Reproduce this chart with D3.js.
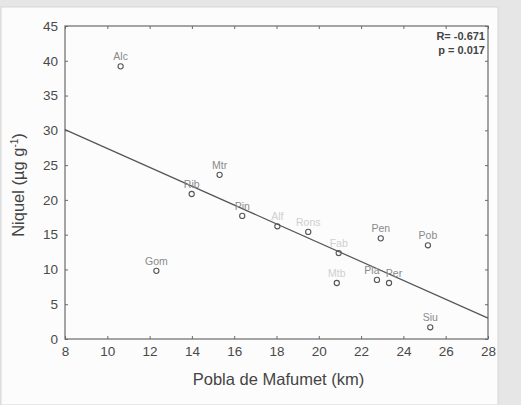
<!DOCTYPE html>
<html>
<head>
  <script src="https://d3js.org/d3.v7.min.js"></script>
  <style>
    body { margin: 0; background: #e4e4e4; }
    svg { display: block; font-family: "Liberation Sans", Arial, sans-serif; }
  </style>
</head>
<body>
  <svg width="521" height="405"></svg>
  <script>
  // sites, distance to Pobla de Mafumet (km) and nickel (ug/g)
  const sites = ["Alc", "Mtr", "Rib", "Pin", "Alf", "Gom", "Rons", "Fab", "Mtb", "Pen", "Pob", "Pla", "Per", "Siu"];
  const distKm = [10.63, 15.31, 13.99, 16.38, 18.04, 12.32, 19.5, 20.94, 20.85, 22.93, 25.16, 22.75, 23.32, 25.27];
  const niquel = [39.2, 23.6, 20.85, 17.7, 16.2, 9.8, 15.4, 12.36, 8.05, 14.47, 13.47, 8.5, 8.05, 1.68];
  // labels that are barely visible in the source
  const faint = ["Alf", "Rons", "Fab", "Mtb"];

  // fitted line end points
  const fitX = [8, 28];
  const fitY = [30.1, 3.0];

  const xTicks = d3.range(8, 29, 2);
  const yTicks = d3.range(0, 46, 5);

  const svg = d3.select("svg");

  // card with shadow
  svg.append("rect").attr("x", 0).attr("y", 0).attr("width", 521).attr("height", 405).attr("fill", "#e6e6e6");
  svg.append("rect").attr("x", 1).attr("y", 7).attr("width", 497).attr("height", 398).attr("fill", "#fcfcfc")
    .attr("stroke", "#d6d6d6").attr("stroke-width", 1);

  const m = { left: 65, right: 488, top: 26, bottom: 339 };
  const x = d3.scaleLinear().domain([8, 28]).range([m.left, m.right]);
  const y = d3.scaleLinear().domain([0, 45]).range([m.bottom, m.top]);

  const axisColor = "#6a6a6a";

  // axes (ticks inward)
  svg.append("g").attr("transform", `translate(0,${m.bottom})`)
    .call(d3.axisBottom(x).tickValues(xTicks).tickSizeInner(-3).tickSizeOuter(0).tickPadding(7))
    .call(g => g.select(".domain").remove());
  svg.append("g").attr("transform", `translate(${m.left},0)`)
    .call(d3.axisLeft(y).tickValues(yTicks).tickSizeInner(-3).tickSizeOuter(0).tickPadding(7))
    .call(g => g.select(".domain").remove());
  svg.append("g").attr("transform", `translate(0,${m.top})`)
    .call(d3.axisTop(x).tickValues(xTicks).tickSizeInner(-3).tickSizeOuter(0).tickFormat(""))
    .call(g => g.select(".domain").remove());
  svg.append("g").attr("transform", `translate(${m.right},0)`)
    .call(d3.axisRight(y).tickValues(yTicks).tickSizeInner(-3).tickSizeOuter(0).tickFormat(""))
    .call(g => g.select(".domain").remove());

  svg.selectAll(".tick line").attr("stroke", axisColor);
  svg.selectAll(".tick text").attr("fill", "#4a4a4a").attr("font-size", 13.5);

  svg.append("rect").attr("x", m.left).attr("y", m.top).attr("width", m.right - m.left).attr("height", m.bottom - m.top)
    .attr("fill", "none").attr("stroke", axisColor).attr("stroke-width", 1.2);

  // regression line
  svg.append("line")
    .attr("x1", x(fitX[0])).attr("y1", y(fitY[0]))
    .attr("x2", x(fitX[1])).attr("y2", y(fitY[1]))
    .attr("stroke", "#555").attr("stroke-width", 1.2);

  // points
  const pts = sites.map((s, i) => ({ s, d: distKm[i], n: niquel[i] }));
  svg.append("g").selectAll("circle").data(pts).enter().append("circle")
    .attr("cx", d => x(d.d)).attr("cy", d => y(d.n)).attr("r", 2.6)
    .attr("fill", "none").attr("stroke", "#555").attr("stroke-width", 1.1);

  // Pla and Per sit close together, so their labels lean apart
  const labelShift = { Pla: -5, Per: 5 };
  svg.append("g").selectAll("text").data(pts).enter().append("text")
    .attr("x", d => x(d.d) + (labelShift[d.s] || 0)).attr("y", d => y(d.n) - 6)
    .attr("text-anchor", "middle").attr("font-size", 10.5)
    .attr("fill", d => faint.includes(d.s) ? "#cfcfcf" : "#8a8a8a")
    .text(d => d.s);

  // statistics
  svg.append("text").attr("x", m.right - 3).attr("y", 40).attr("text-anchor", "end")
    .attr("font-size", 11).attr("font-weight", "bold").attr("fill", "#444").text("R= -0.671");
  svg.append("text").attr("x", m.right - 3).attr("y", 54).attr("text-anchor", "end")
    .attr("font-size", 11).attr("font-weight", "bold").attr("fill", "#444").text("p = 0.017");

  // axis titles
  svg.append("text").attr("x", (m.left + m.right) / 2 + 2).attr("y", 385).attr("text-anchor", "middle")
    .attr("font-size", 16.5).attr("fill", "#444").text("Pobla de Mafumet (km)");

  const yt = svg.append("text").attr("transform", "translate(24,185) rotate(-90)")
    .attr("text-anchor", "middle").attr("font-size", 16.5).attr("fill", "#444");
  yt.append("tspan").text("Niquel (\u00b5g g");
  yt.append("tspan").attr("font-size", 10).attr("dy", -6).text("-1");
  yt.append("tspan").attr("dy", 6).text(")");
  </script>
</body>
</html>
